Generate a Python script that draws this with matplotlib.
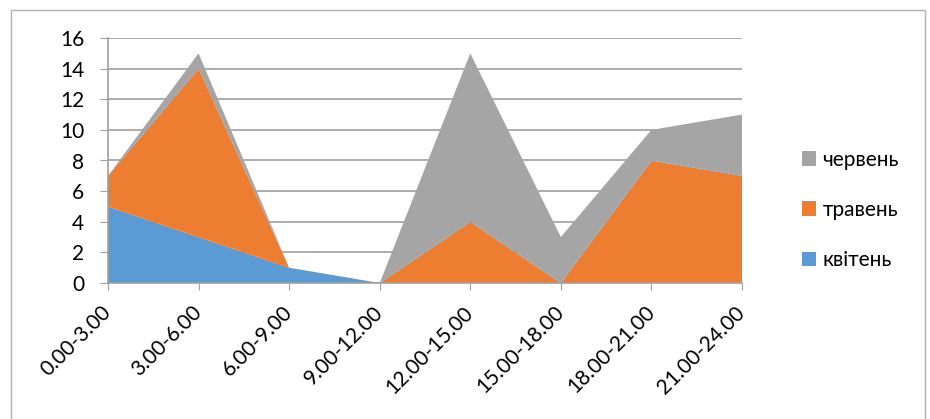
import numpy as np
import matplotlib.pyplot as plt
from matplotlib.patches import Rectangle

plt.rcParams['font.family'] = ['Lato', 'DejaVu Sans']

intervals = ['0.00-3.00', '3.00-6.00', '6.00-9.00', '9.00-12.00',
             '12.00-15.00', '15.00-18.00', '18.00-21.00', '21.00-24.00']
kviten = [5, 3, 1, 0, 0, 0, 0, 0]
traven = [2, 11, 0, 0, 4, 0, 8, 7]
cherven = [0, 1, 0, 0, 11, 3, 2, 4]

names = ['квітень', 'травень', 'червень']
colors = ['#5b9bd5', '#ed7d31', '#a5a5a5']

fig = plt.figure(figsize=(9.3, 4.19), dpi=100)
ax = fig.add_axes([108/930, 1-283/419, (742-108)/930, (283-38)/419])

x = np.arange(len(intervals))
ax.stackplot(x, kviten, traven, cherven, colors=colors, labels=names,
             linewidth=0)

ax.set_xlim(0, len(intervals) - 1)
ax.set_ylim(0, 16)
ax.set_yticks(range(0, 17, 2))
ax.set_xticks(x)
ax.set_xticklabels(intervals, rotation=45, ha='right', va='center',
                   rotation_mode='anchor', fontsize=15)
ax.tick_params(axis='y', length=6, color='#a0a0a0', labelsize=15, pad=11)
ax.tick_params(axis='x', length=5, color='#a0a0a0', pad=14)
ax.grid(axis='y', color='#a0a0a0', linewidth=1.2)
ax.set_axisbelow(True)
for s in ['top', 'right']:
    ax.spines[s].set_visible(False)
for s in ['left', 'bottom']:
    ax.spines[s].set_color('#a0a0a0')
    ax.spines[s].set_linewidth(1.2)

handles, labels = ax.get_legend_handles_labels()
ax.legend(handles[::-1], labels[::-1], loc='center left',
          bbox_to_anchor=(783/930, 1-210/419), bbox_transform=fig.transFigure,
          frameon=False, fontsize=15, handlelength=0.7, handleheight=0.7,
          handletextpad=0.3, labelspacing=1.45)

fig.patches.append(Rectangle((11/930, -0.05), 914/930, 1.05 - 10/419,
                             transform=fig.transFigure, fill=False,
                             edgecolor='#b0b0b0', linewidth=1))

fig.savefig('out.png', dpi=100)
